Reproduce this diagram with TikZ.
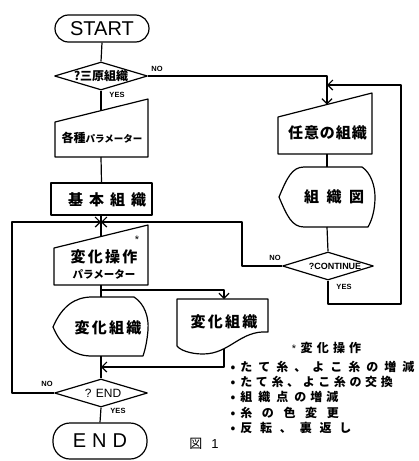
\documentclass[tikz,border=0pt]{standalone}
\usepackage{fontspec}
\setmainfont{Liberation Sans}
\newfontfamily\jp{Noto Sans CJK JP}
\usetikzlibrary{shapes.geometric,arrows.meta}
\newcommand{\ls}[1]{\addfontfeature{LetterSpace=#1}}
\begin{document}
\begin{tikzpicture}[x=1pt,y=-1pt,line width=1.2pt,line join=round,
  term/.style={draw,rectangle,minimum width=94pt,inner sep=0pt},
  dec/.style={draw,diamond,minimum width=93pt,minimum height=28pt,inner sep=0pt},
  procbox/.style={draw,rectangle,minimum width=101pt,minimum height=32pt,inner sep=0pt},
  jt/.style={font=\jp\bfseries\fontsize{15}{15}\selectfont,inner sep=0pt},
  lbl/.style={font=\bfseries\fontsize{7.5}{7.5}\selectfont,inner sep=0pt},
  lg/.style={anchor=west,inner sep=0pt,font=\jp\bfseries\fontsize{12}{12}\selectfont},
  arr/.style={-{Straight Barb[length=5pt,width=10pt,line width=1.2pt]}},
]
\useasboundingbox (0,0) rectangle (419,461);

% ---------- left column ----------
\node[term,rounded corners=13.5pt,minimum height=27pt,font=\fontsize{20}{20}\selectfont] (start) at (102,28.5) {START};
\node[dec] (d1) at (101,76) {\makebox[0pt]{\jp\bfseries\fontsize{12}{12}\selectfont ?三原組織}};
\node[lbl] (d1no) at (157,69) {NO};
\node[lbl] (d1yes) at (117,95) {YES};

% manual input 1
\coordinate (m1tl) at (55,122); \coordinate (m1tr) at (148,99);
\coordinate (m1br) at (148,157); \coordinate (m1bl) at (55,157);
\draw (m1tl) -- (m1tr) -- (m1br) -- (m1bl) -- cycle;
\coordinate (m1in) at (101,110.6); \coordinate (m1out) at (101,157);
\node[jt] (m1) at (102,138) {{\fontsize{12}{12}\selectfont 各種}{\fontsize{9.5}{10}\selectfont パラメーター}};

\node[procbox] (b) at (101.5,199) {};
\node[jt] (bt) at (107,200) {\ls{40}基本組織};

% manual input 2
\coordinate (m2tl) at (54,248); \coordinate (m2tr) at (148,225);
\coordinate (m2br) at (148,285); \coordinate (m2bl) at (54,285);
\draw (m2tl) -- (m2tr) -- (m2br) -- (m2bl) -- cycle;
\coordinate (m2in) at (101,236.5); \coordinate (m2out) at (101,285);
\node[jt] (m2a) at (104,257) {\ls{15}変化操作};
\node[jt,font=\jp\bfseries\fontsize{10.5}{10.5}\selectfont] (m2b) at (104,274) {パラメーター};
\node[inner sep=0pt,font=\fontsize{11}{11}\selectfont] (star1) at (137,240) {*};
\coordinate (j1) at (101,222);

% display left
\draw (53,327) .. controls (62,306) and (75,297) .. (92,297) -- (134,297)
  .. controls (145,304) and (149,318) .. (148,330)
  .. controls (147,342) and (145,350) .. (143,356) -- (92,356)
  .. controls (75,356) and (62,348) .. (53,327) -- cycle;
\coordinate (dsin) at (101,297); \coordinate (dsout) at (101,356);
\node[jt] (ds) at (108,328) {\ls{15}変化組織};

\coordinate (br) at (101,290);
% document
\draw (177,299) -- (268,299) -- (268,332)
  .. controls (240,330) and (230,354) .. (203,354)
  .. controls (190,354) and (180,350) .. (177,346) -- cycle;
\coordinate (docin) at (224,299); \coordinate (docout) at (224,349);
\node[jt] (doc) at (224,322) {\ls{15}変化組織};
\coordinate (j2) at (101,367);

\node[dec] (d2) at (101,393) {\makebox[0pt]{\fontsize{12}{12}\selectfont\hspace{4pt}? END}};
\node[lbl] (d2no) at (47,384) {NO};
\node[lbl] (d2yes) at (118,411) {YES};
\node[term,rounded corners=17pt,minimum height=36pt,font=\fontsize{20}{20}\selectfont] (end) at (100,441) {\ls{30}END};

% ---------- right column ----------
\coordinate (m3tl) at (278,117); \coordinate (m3tr) at (372,93);
\coordinate (m3br) at (372,154); \coordinate (m3bl) at (278,154);
\draw (m3tl) -- (m3tr) -- (m3br) -- (m3bl) -- cycle;
\coordinate (m3in) at (327,104.5); \coordinate (m3out) at (327,154);
\node[jt] (m3) at (327.5,133) {\ls{6}任意の組織};

\draw (279,197) .. controls (287,178) and (292,167) .. (304,167) -- (362,167)
  .. controls (371,173) and (375,186) .. (375,197)
  .. controls (375,210) and (372,220) .. (368,227) -- (304,227)
  .. controls (292,227) and (287,216) .. (279,197) -- cycle;
\coordinate (zin) at (327,167); \coordinate (zout) at (327,227);
\node[jt] (z) at (334,197) {\ls{50}組織図};

\node[dec,minimum width=91pt] (d3) at (328,266) {\makebox[0pt]{\bfseries\fontsize{9}{9}\selectfont\hspace{14pt}?CONTINUE}};
\node[lbl] (d3no) at (275,258) {NO};
\node[lbl] (d3yes) at (344,287) {YES};

\coordinate (c1) at (327,76); \coordinate (c2) at (327,85);

% ---------- connectors ----------
\draw (start.south) -- (d1.north);
\draw (d1.south) -- (m1in);
\draw (m1out) -- (b.south |- b.north);
\draw (b.south -| j1) -- (m2in);
\draw (m2out) -- (dsin);
\draw[arr] (br) -- (br -| docin) -- (docin);
\draw (dsout) -- (d2.north);
\draw[arr] (docout) -- (docout |- j2) -- (j2);
\draw (d2.south) -- (end.north);
\draw[arr] (d2.west) -- (12,393) -- (12,222) -- (j1);
\draw[arr] (d1.east) -- (c1) -- (m3in);
\draw (m3out) -- (zin);
\draw (zout) -- (d3.north);
\draw[arr] (d3.west) -- (242,266) -- (242,222) -- (j1);
\draw[arr] (d3.south) -- (328,304) -- (401,304) -- (401,85) -- (c2);

% ---------- legend ----------
\node[inner sep=0pt,font=\fontsize{11}{11}\selectfont] (star2) at (294,349) {*};
\node[lg] (lg0) at (300,348) {\ls{35}変化操作};
\node[lg] (lg1) at (230,367) {•\hspace{5pt}\ls{50}たて糸、よこ糸の増減};
\node[lg] (lg2) at (230,382) {•\hspace{5pt}\ls{30}たて糸、よこ糸の交換};
\node[lg] (lg3) at (230,397) {•\hspace{5pt}\ls{50}組織点の\hspace{4pt}増\hspace{4pt}減};
\node[lg] (lg4) at (230,413) {•\hspace{5pt}\ls{80}糸の色変更};
\node[lg] (lg5) at (230,428) {•\hspace{5pt}\ls{65}反転、裏返し};

\node[inner sep=0pt,font=\fontsize{13}{13}\selectfont] (fig) at (204,444) {{\jp 図}\hspace{9pt}1};
\end{tikzpicture}
\end{document}
